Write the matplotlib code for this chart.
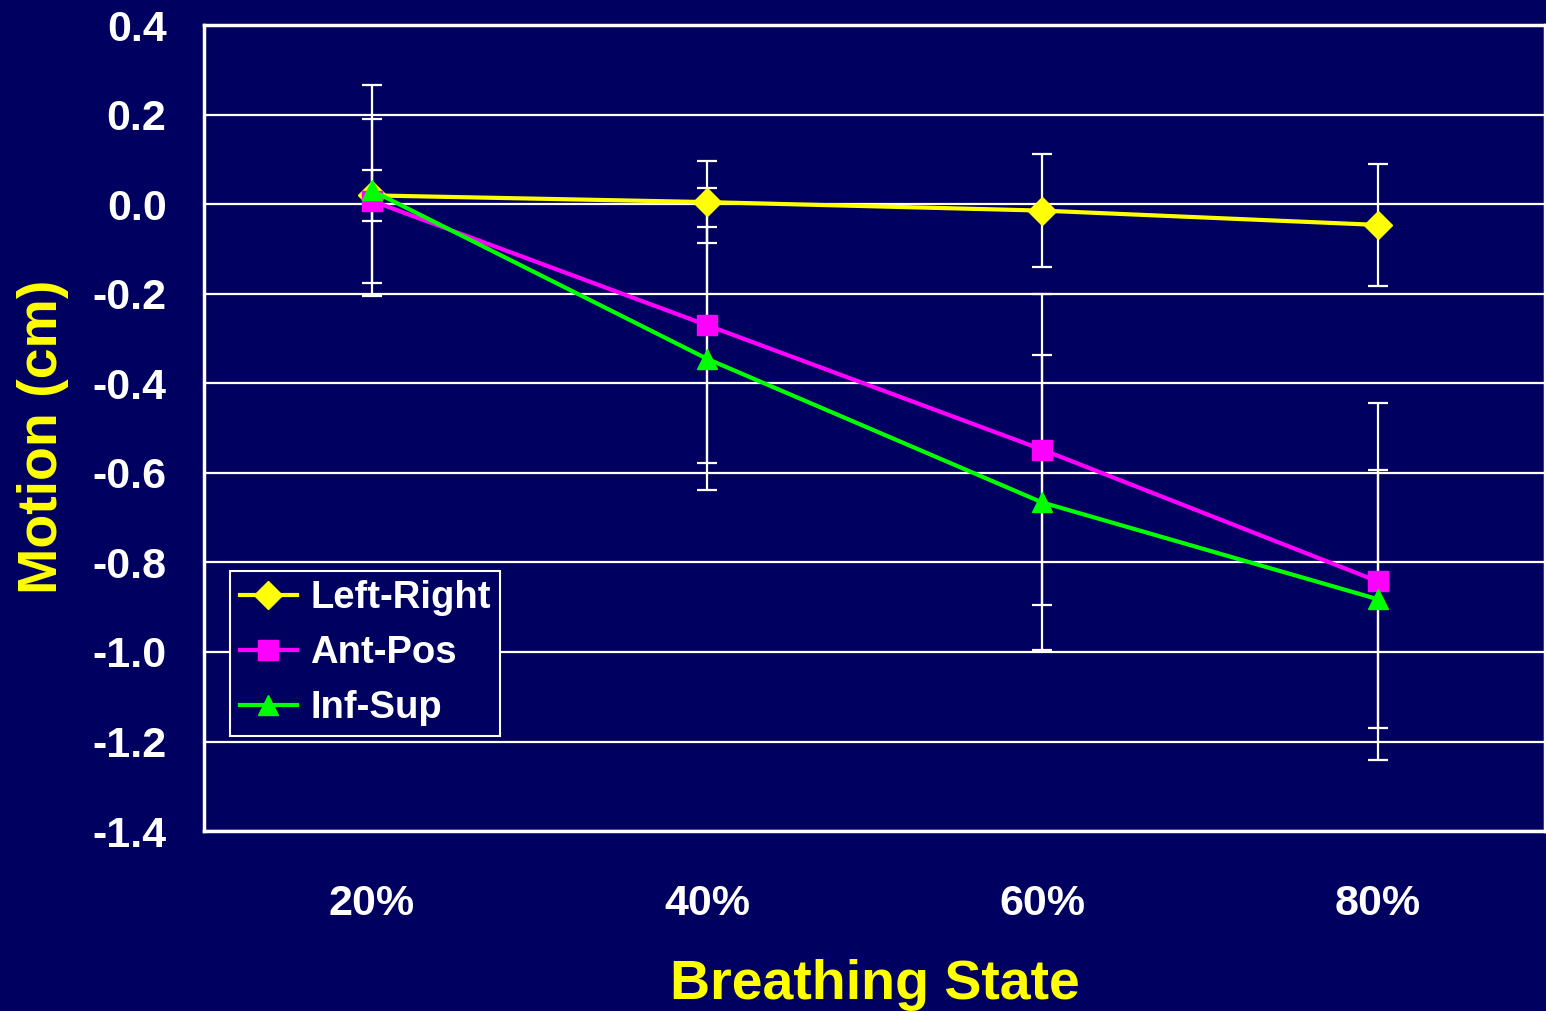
import matplotlib
matplotlib.use("Agg")
import matplotlib.pyplot as plt
import numpy as np

categories = ["20%", "40%", "60%", "80%"]
left_right = [0.020, 0.005, -0.014, -0.046]
left_right_err = [0.057, 0.091, 0.127, 0.136]
ant_pos = [0.008, -0.270, -0.548, -0.842]
ant_pos_err = [0.183, 0.307, 0.348, 0.399]
inf_sup = [0.031, -0.345, -0.666, -0.882]
inf_sup_err = [0.235, 0.294, 0.330, 0.288]
y_ticks = [0.4, 0.2, 0.0, -0.2, -0.4, -0.6, -0.8, -1.0, -1.2, -1.4]

BG = "#000060"
plt.rcParams['font.family'] = ['Liberation Sans', 'DejaVu Sans']
plt.rcParams['font.weight'] = 'bold'

fig = plt.figure(figsize=(15.46, 10.11), dpi=100, facecolor=BG)
ax = fig.add_axes([0.132, 0.178, 0.8675, 0.797])
ax.set_facecolor(BG)

x = np.arange(len(categories))

for ys, es in [(left_right, left_right_err), (ant_pos, ant_pos_err), (inf_sup, inf_sup_err)]:
    ax.errorbar(x, ys, yerr=es, fmt='none', ecolor='white', elinewidth=1.6,
                capsize=7, capthick=1.6, zorder=2)

ax.plot(x, left_right, color='#FFFF00', lw=3, marker='D', markersize=14,
        label='Left-Right', zorder=4)
ax.plot(x, ant_pos, color='#FF00FF', lw=3, marker='s', markersize=14,
        label='Ant-Pos', zorder=4)
ax.plot(x, inf_sup, color='#00FF00', lw=3, marker='^', markersize=15,
        label='Inf-Sup', zorder=4)

ax.set_xlim(-0.5, 3.5)
ax.set_ylim(-1.4, 0.4)
ax.set_xticks(x)
ax.set_xticklabels(categories)
ax.set_yticks(y_ticks)
ax.set_yticklabels([f"{v:.1f}" for v in y_ticks])
ax.yaxis.grid(True, color='white', lw=1.6)
ax.set_axisbelow(True)
ax.tick_params(axis='both', length=0, labelsize=31, labelcolor='white')
ax.tick_params(axis='x', pad=38)
ax.tick_params(axis='y', pad=27)
for s in ax.spines.values():
    s.set_color('white')
    s.set_linewidth(2.5)

ax.set_xlabel('Breathing State', fontsize=40, color='#FFFF00', fontweight='bold', labelpad=25)
ax.set_ylabel('Motion (cm)', fontsize=40, color='#FFFF00', fontweight='bold', labelpad=17)
ax.yaxis.label.set_y(0.489)

leg = ax.legend(loc='lower left', bbox_to_anchor=(0.0194, 0.118), borderaxespad=0,
                fontsize=27.5, fancybox=False, framealpha=1, facecolor=BG,
                edgecolor='white', handlelength=1.5, labelspacing=0.5,
                handletextpad=0.35, borderpad=0.25)
leg.get_frame().set_linewidth(1.5)
for t in leg.get_texts():
    t.set_color('white')

fig.savefig('out.png', dpi=100, facecolor=BG)
